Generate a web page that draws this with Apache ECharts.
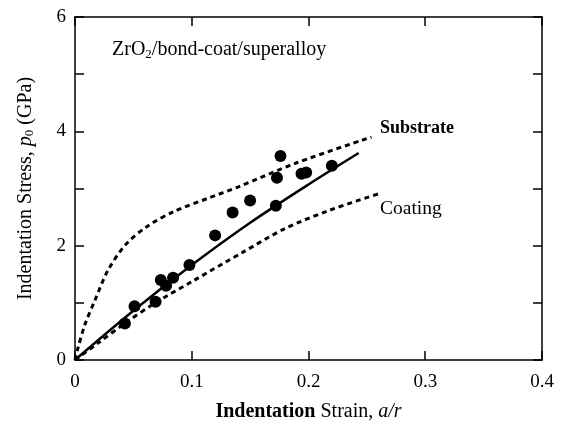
<!DOCTYPE html>
<html>
<head>
<meta charset="utf-8">
<script src="https://cdn.jsdelivr.net/npm/echarts@6/dist/echarts.min.js"></script>
<style>html,body{margin:0;padding:0;background:#fff}#c{width:563px;height:427px}</style>
</head>
<body>
<div id="c"></div>
<script>
// Measured data points (strain a/r, stress p0 GPa)
var pointsX = [0.0427, 0.051, 0.069, 0.0735, 0.078, 0.084, 0.098, 0.120, 0.135, 0.150, 0.172, 0.173, 0.176, 0.194, 0.198, 0.220];
var pointsY = [0.64, 0.94, 1.02, 1.40, 1.30, 1.44, 1.66, 2.18, 2.58, 2.79, 2.70, 3.19, 3.57, 3.26, 3.28, 3.40];
// Fitted composite curve (solid)
var fitX = [0, 0.05, 0.10, 0.15, 0.20, 0.243];
var fitY = [0, 0.86, 1.66, 2.40, 3.07, 3.62];
// Substrate curve (dashed)
var subX = [0, 0.002, 0.0085, 0.017, 0.028, 0.043, 0.062, 0.085, 0.114, 0.140, 0.190, 0.254];
var subY = [0, 0.17, 0.62, 1.04, 1.56, 2.01, 2.34, 2.60, 2.83, 3.03, 3.45, 3.90];
// Coating curve (dashed)
var coatX = [0, 0.020, 0.044, 0.068, 0.100, 0.145, 0.180, 0.218, 0.262];
var coatY = [0, 0.30, 0.66, 0.99, 1.37, 1.90, 2.30, 2.62, 2.92];
var xTicks = [0, 0.1, 0.2, 0.3, 0.4];
var yTicks = [0, 2, 4, 6];

function zip(a, b) { return a.map(function (v, i) { return [v, b[i]]; }); }

var FONT = '"Liberation Serif", "DejaVu Serif", serif';
var chart = echarts.init(document.getElementById('c'), null, { renderer: 'canvas' });

function axisBase() {
  return {
    type: 'value',
    axisLine: { show: true, onZero: false, lineStyle: { color: '#000', width: 1.5 } },
    axisTick: { show: true, inside: true, length: 9, lineStyle: { color: '#000', width: 1.5 } },
    splitLine: { show: false }
  };
}

chart.setOption({
  animation: false,
  backgroundColor: '#fff',
  grid: { left: 75, right: 21, top: 17, bottom: 64, containLabel: false },
  xAxis: [
    Object.assign(axisBase(), {
      min: 0, max: 0.4, interval: 0.1, position: 'bottom',
      axisLabel: { color: '#000', fontFamily: FONT, fontSize: 19, margin: 13,
        formatter: function (v) { var r = Math.round(v * 10) / 10; return xTicks.indexOf(r) >= 0 ? (r === 0 ? '0' : r.toFixed(1)) : ''; } },
      name: '{b|Indentation} {n|Strain, }{i|a/r}',
      nameLocation: 'middle', nameGap: 42,
      nameTextStyle: { color: '#000', fontFamily: FONT, fontSize: 20,
        rich: { b: { fontFamily: FONT, fontSize: 20, fontWeight: 'bold', color: '#000' },
                n: { fontFamily: FONT, fontSize: 20, color: '#000' },
                i: { fontFamily: FONT, fontSize: 20, fontStyle: 'italic', color: '#000' } } }
    }),
    Object.assign(axisBase(), {
      min: 0, max: 0.4, interval: 0.1, position: 'top',
      axisLabel: { show: false }
    })
  ],
  yAxis: [
    Object.assign(axisBase(), {
      min: 0, max: 6, interval: 2, position: 'left',
      minorTick: { show: true, splitNumber: 2, length: 9, lineStyle: { color: '#000', width: 1.5 } },
      axisLabel: { color: '#000', fontFamily: FONT, fontSize: 19, margin: 9,
        formatter: function (v) { return yTicks.indexOf(v) >= 0 ? String(v) : ''; } },
      name: '{n|Indentation Stress, }{i|p}{s|0}{n| (GPa)}',
      nameLocation: 'middle', nameGap: 39,
      nameTextStyle: { color: '#000', fontFamily: FONT, fontSize: 20,
        rich: { n: { fontFamily: FONT, fontSize: 20, color: '#000' },
                i: { fontFamily: FONT, fontSize: 20, fontStyle: 'italic', color: '#000' },
                s: { fontFamily: FONT, fontSize: 13, color: '#000', padding: [8, 0, 0, 0] } } }
    }),
    Object.assign(axisBase(), {
      min: 0, max: 6, interval: 2, position: 'right',
      minorTick: { show: true, splitNumber: 2, length: 9, lineStyle: { color: '#000', width: 1.5 } },
      axisLabel: { show: false }
    })
  ],
  series: [
    { type: 'line', data: zip(subX, subY), smooth: 0.3, symbol: 'none',
      lineStyle: { color: '#000', width: 3, type: [5, 4] }, z: 2 },
    { type: 'line', data: zip(coatX, coatY), smooth: 0.3, symbol: 'none',
      lineStyle: { color: '#000', width: 3, type: [5, 4] }, z: 2 },
    { type: 'line', data: zip(fitX, fitY), smooth: 0.3, symbol: 'none',
      lineStyle: { color: '#000', width: 2.5 }, z: 3 },
    { type: 'scatter', data: zip(pointsX, pointsY), symbol: 'circle', symbolSize: 12,
      itemStyle: { color: '#000', opacity: 1 }, z: 4 }
  ],
  graphic: [
    { type: 'text', left: 112, top: 40, style: {
        text: '{n|ZrO}{s|2}{n|/bond-coat/superalloy}', fill: '#000', font: '20px ' + FONT,
        rich: { n: { fontFamily: FONT, fontSize: 20, fill: '#000' },
                s: { fontFamily: FONT, fontSize: 13, fill: '#000', padding: [10, 0, 0, 0] } } } },
    { type: 'text', left: 380, top: 119, style: { text: 'Substrate', fill: '#000', font: 'bold 18px ' + FONT } },
    { type: 'text', left: 380, top: 199, style: { text: 'Coating', fill: '#000', font: '19.5px ' + FONT } }
  ]
});
</script>
</body>
</html>
